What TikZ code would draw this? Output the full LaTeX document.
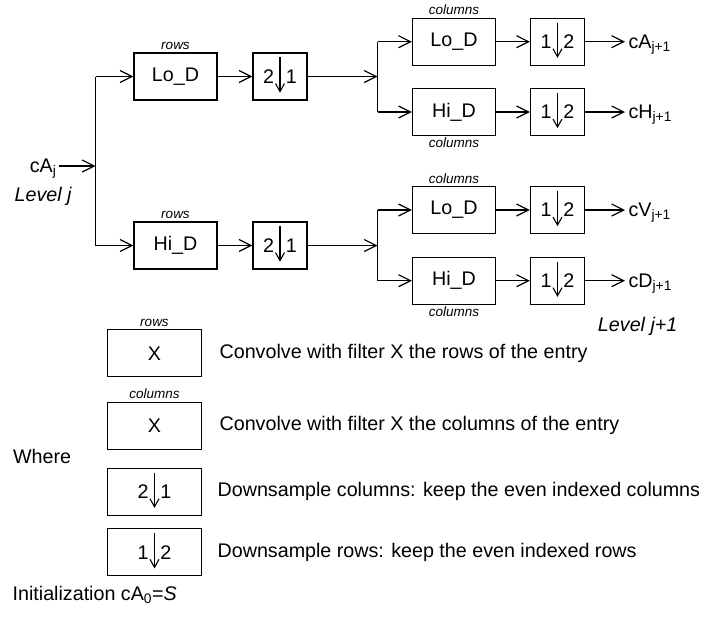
\documentclass[tikz,border=0pt]{standalone}
\usepackage{fontspec}
\setmainfont{Liberation Sans}
\usetikzlibrary{arrows.meta,positioning}

\begin{document}
\begin{tikzpicture}[x=1pt,y=-1pt,line width=1.2pt,
    font=\fontsize{19.7}{24}\selectfont,
    filt/.style={draw,line width=1.3pt,minimum width=83pt,minimum height=47pt,inner sep=0pt},
    samp/.style={draw,line width=1.3pt,minimum width=54pt,minimum height=47pt,inner sep=0pt},
    tag/.style={font=\fontsize{13.5}{15}\selectfont\itshape,inner sep=0pt},
    flow/.style={-{Straight Barb[length=12pt,width=12pt]}},
    sub/.style={-{Straight Barb[length=8pt,width=9pt]},line width=1.1pt}]
    \useasboundingbox (0,0) rectangle (705,619);

    % input
    \node[anchor=base east,inner sep=2pt] (in) at (59,172.5) {cA\textsubscript{j}};
    \node[anchor=base west,inner sep=0pt,font=\fontsize{19.7}{24}\selectfont\itshape] (lvj) at (14,201.5) {Level j};
    \coordinate (s0) at (95.5,166);
    \coordinate (s0t) at (95.5,76.5);
    \coordinate (s0b) at (95.5,245.5);

    % rows
    \node[filt] (rlo) at (175.5,76.5) {Lo\_D};
    \node[filt] (rhi) at (175.5,245.5) {Hi\_D};
    \node[tag,above=2pt of rlo] (rlot) {rows};
    \node[tag,above=2pt of rhi] (rhit) {rows};
    \node[samp] (dlo) at (280,76.5) {2\hspace{12pt}1};
    \node[samp] (dhi) at (280,245.5) {2\hspace{12pt}1};
    \coordinate (s1) at (377.5,76.5);
    \coordinate (s1t) at (377.5,41.7);
    \coordinate (s1b) at (377.5,112);
    \coordinate (s2) at (377.5,245.5);
    \coordinate (s2t) at (377.5,210);
    \coordinate (s2b) at (377.5,280.7);

    % columns
    \node[filt] (clo1) at (454,41.7) {Lo\_D};
    \node[filt] (chi1) at (454,112) {Hi\_D};
    \node[filt] (clo2) at (454,210) {Lo\_D};
    \node[filt] (chi2) at (454,280.7) {Hi\_D};
    \node[tag,above=2pt of clo1] (clo1t) {columns};
    \node[tag,below=1pt of chi1] (chi1t) {columns};
    \node[tag,above=2pt of clo2] (clo2t) {columns};
    \node[tag,below=1pt of chi2] (chi2t) {columns};
    \node[samp] (q1) at (557.5,41.7) {1\hspace{12pt}2};
    \node[samp] (q2) at (557.5,112) {1\hspace{12pt}2};
    \node[samp] (q3) at (557.5,210) {1\hspace{12pt}2};
    \node[samp] (q4) at (557.5,280.7) {1\hspace{12pt}2};

    % outputs
    \node[anchor=base west,inner sep=3pt] (oA) at (625,48.5) {cA\textsubscript{j+1}};
    \node[anchor=base west,inner sep=3pt] (oH) at (625,118.8) {cH\textsubscript{j+1}};
    \node[anchor=base west,inner sep=3pt] (oV) at (625,216.8) {cV\textsubscript{j+1}};
    \node[anchor=base west,inner sep=3pt] (oD) at (625,287.5) {cD\textsubscript{j+1}};
    \node[anchor=base east,inner sep=0pt,font=\fontsize{19.7}{24}\selectfont\itshape] (lvk) at (678,331) {Level j+1};

    \draw[flow] (in.east |- s0) -- (s0);
    \draw (s0t) -- (s0b);
    \draw[flow] (s0t) -- (rlo);
    \draw[flow] (s0b) -- (rhi);
    \draw[flow] (rlo) -- (dlo);
    \draw[flow] (rhi) -- (dhi);
    \draw[flow] (dlo) -- (s1);
    \draw[flow] (dhi) -- (s2);
    \draw (s1t) -- (s1b);
    \draw (s2t) -- (s2b);
    \draw[flow] (s1t) -- (clo1);
    \draw[flow] (s1b) -- (chi1);
    \draw[flow] (s2t) -- (clo2);
    \draw[flow] (s2b) -- (chi2);
    \draw[flow] (clo1) -- (q1);
    \draw[flow] (chi1) -- (q2);
    \draw[flow] (clo2) -- (q3);
    \draw[flow] (chi2) -- (q4);
    \draw[flow] (q1) -- (q1 -| oA.west);
    \draw[flow] (q2) -- (q2 -| oH.west);
    \draw[flow] (q3) -- (q3 -| oV.west);
    \draw[flow] (q4) -- (q4 -| oD.west);

    % legend
    \node[filt,minimum width=94pt] (krow) at (154.5,353.3) {X};
    \node[tag,above=2pt of krow] (krowt) {rows};
    \node[filt,minimum width=94pt] (kcol) at (154.5,425.7) {X};
    \node[tag,above=2pt of kcol] (kcolt) {columns};
    \node[filt,minimum width=94pt] (kd21) at (154.5,491.7) {2\hspace{12pt}1};
    \node[filt,minimum width=94pt] (kd12) at (154.5,552.3) {1\hspace{12pt}2};
    \node[anchor=west,inner sep=0pt] (trow) at (219,353.3) {Convolve with filter X the rows of the entry};
    \node[anchor=west,inner sep=0pt] (tcol) at (219,425.7) {Convolve with filter X the columns of the entry};
    \node[anchor=west,inner sep=0pt] (td21) at (217,491.7) {Downsample columns: keep the even indexed columns};
    \node[anchor=west,inner sep=0pt] (td12) at (217,552.3) {Downsample rows: keep the even indexed rows};
    \node[anchor=west,inner sep=0pt] (where) at (12.5,456.7) {Where};
    \node[anchor=base west,inner sep=0pt] (init) at (12,600) {Initialization cA\textsubscript{0}=\textit{S}};

    % down-sampling arrows
    \draw[sub] ([yshift=-5pt]dlo.north) -- ([yshift=8pt]dlo.south);
    \draw[sub] ([yshift=-5pt]dhi.north) -- ([yshift=8pt]dhi.south);
    \draw[sub] ([yshift=-5pt]q1.north) -- ([yshift=8pt]q1.south);
    \draw[sub] ([yshift=-5pt]q2.north) -- ([yshift=8pt]q2.south);
    \draw[sub] ([yshift=-5pt]q3.north) -- ([yshift=8pt]q3.south);
    \draw[sub] ([yshift=-5pt]q4.north) -- ([yshift=8pt]q4.south);
    \draw[sub] ([yshift=-5pt]kd21.north) -- ([yshift=8pt]kd21.south);
    \draw[sub] ([yshift=-5pt]kd12.north) -- ([yshift=8pt]kd12.south);
\end{tikzpicture}
\end{document}
